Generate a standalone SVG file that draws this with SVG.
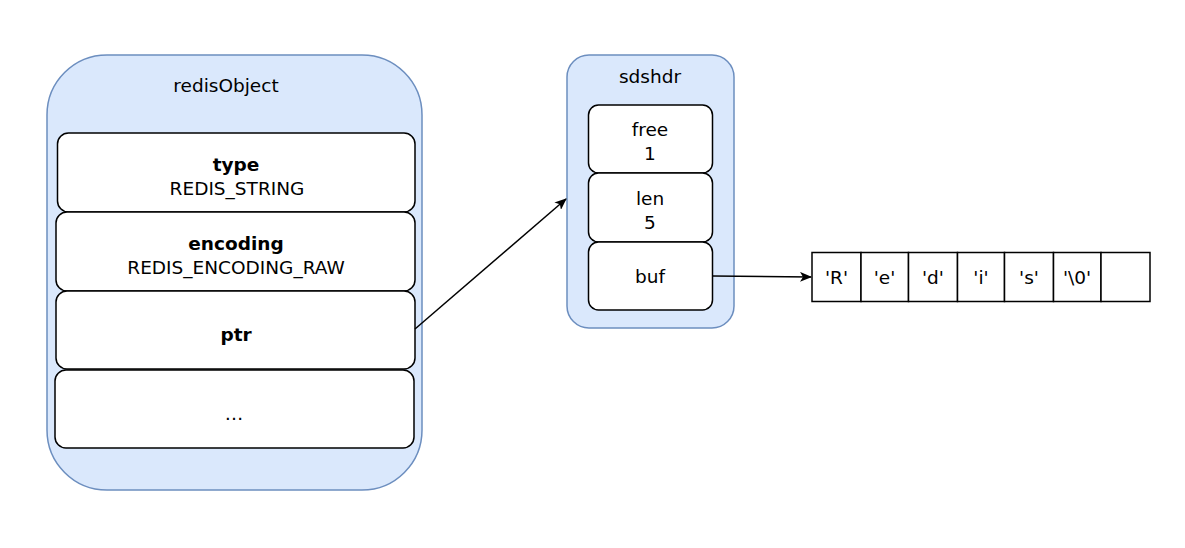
<svg xmlns="http://www.w3.org/2000/svg" width="1185" height="548" viewBox="0 0 1185 548">
<defs>
<style>
.cont{fill:#dae8fc;stroke:#6c8ebf;stroke-width:1.5}
.box{fill:#ffffff;stroke:#000000;stroke-width:1.5}
.cell{fill:#ffffff;stroke:#000000;stroke-width:1.5}
text{font-family:"Comic Sans MS","DejaVu Sans",sans-serif;font-size:18.5px;fill:#000;text-anchor:middle}
.b{font-weight:bold}
.conn{fill:none;stroke:#000;stroke-width:1.5}
</style>
<marker id="arr" viewBox="0 0 12 10" refX="11" refY="5" markerWidth="12" markerHeight="10" markerUnits="userSpaceOnUse" orient="auto">
<path d="M0,0 L12,5 L0,10 L3,5 Z" fill="#000"/>
</marker>
</defs>
<rect width="1185" height="548" fill="#fff"/>
<g id="redisObject">
<rect class="cont" x="47" y="55" width="375" height="435" rx="60" ry="60"/>
<text x="226" y="92">redisObject</text>
</g>
<g id="type">
<rect class="box" x="57.5" y="133" width="357.5" height="79" rx="11" ry="11"/>
<text x="236" y="171" class="b">type</text>
<text x="237" y="195">REDIS_STRING</text>
</g>
<g id="encoding">
<rect class="box" x="56" y="212" width="359" height="79" rx="11" ry="11"/>
<text x="236" y="250" class="b">encoding</text>
<text x="236" y="274">REDIS_ENCODING_RAW</text>
</g>
<g id="ptr">
<rect class="box" x="56" y="291" width="359" height="78" rx="11" ry="11"/>
<text x="236" y="341" class="b">ptr</text>
</g>
<g id="more">
<rect class="box" x="55" y="370" width="359" height="78" rx="11" ry="11"/>
<text x="234" y="420">…</text>
</g>
<g id="sdshdr">
<rect class="cont" x="567" y="55" width="167" height="273" rx="22" ry="22"/>
<text x="650" y="83">sdshdr</text>
</g>
<g id="free">
<rect class="box" x="588.5" y="105" width="124" height="68" rx="10" ry="10"/>
<text x="650" y="136">free</text>
<text x="650" y="160">1</text>
</g>
<g id="len">
<rect class="box" x="588.5" y="173" width="124" height="69" rx="10" ry="10"/>
<text x="650" y="205">len</text>
<text x="650" y="229">5</text>
</g>
<g id="buf">
<rect class="box" x="588.5" y="242" width="124" height="68" rx="10" ry="10"/>
<text x="650" y="283">buf</text>
</g>
<g id="array">
<rect class="cell" x="812" y="252.5" width="49" height="49"/>
<rect class="cell" x="861" y="252.5" width="47.5" height="49"/>
<rect class="cell" x="908.5" y="252.5" width="49" height="49"/>
<rect class="cell" x="957.5" y="252.5" width="47" height="49"/>
<rect class="cell" x="1004.5" y="252.5" width="49" height="49"/>
<rect class="cell" x="1053.5" y="252.5" width="47.5" height="49"/>
<rect class="cell" x="1101" y="252.5" width="49" height="49"/>
<text x="836.5" y="284">'R'</text>
<text x="884.5" y="284">'e'</text>
<text x="933" y="284">'d'</text>
<text x="981" y="284">'i'</text>
<text x="1029" y="284">'s'</text>
<text x="1077" y="284">'\0'</text>
</g>
<g id="connectors">
<path class="conn" d="M415,329 L566,199" marker-end="url(#arr)"/>
<path class="conn" d="M712.5,276 L811,277" marker-end="url(#arr)"/>
</g>
</svg>
